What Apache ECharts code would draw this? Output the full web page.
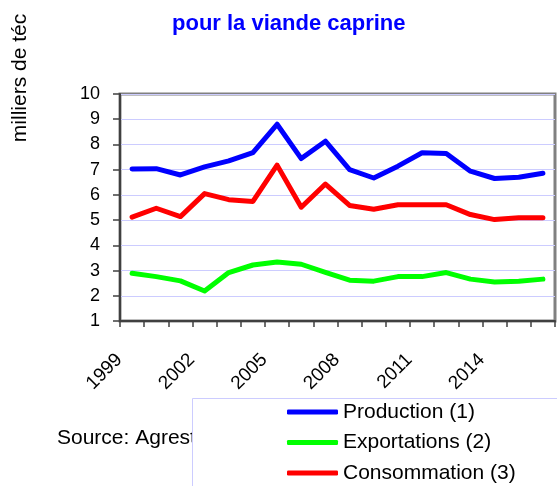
<!DOCTYPE html>
<html>
<head>
<meta charset="utf-8">
<script src="https://cdn.jsdelivr.net/npm/echarts@6/dist/echarts.min.js"></script>
<style>html,body{margin:0;padding:0;background:#fff;}#c{width:557px;height:486px;}</style>
</head>
<body>
<div id="c"></div>
<script>
const years = ['1999','2000','2001','2002','2003','2004','2005','2006','2007','2008','2009','2010','2011','2012','2013','2014','2015','2016'];
const production = [7.03, 7.04, 6.79, 7.11, 7.35, 7.68, 8.8, 7.44, 8.13, 7.0, 6.67, 7.14, 7.67, 7.64, 6.94, 6.65, 6.70, 6.86];
const exportations = [2.89, 2.76, 2.59, 2.19, 2.92, 3.22, 3.34, 3.25, 2.93, 2.62, 2.58, 2.76, 2.76, 2.92, 2.66, 2.55, 2.58, 2.66];
const consommation = [5.12, 5.47, 5.14, 6.05, 5.81, 5.74, 7.18, 5.51, 6.43, 5.58, 5.43, 5.61, 5.61, 5.61, 5.22, 5.02, 5.09, 5.09];
const seriesNames = ['Production (1)', 'Exportations (2)', 'Consommation (3)'];
const titleText = 'pour la viande caprine';
const yAxisTitle = 'milliers de téc';
const sourceText = 'Source: Agreste';

const chart = echarts.init(document.getElementById('c'), null, {renderer: 'canvas'});
const font = 'Arial, "Liberation Sans", sans-serif';
function line(name, data, color) {
  return {
    name: name, type: 'line', data: data, symbol: 'none', smooth: false,
    lineStyle: {color: color, width: 5, join: 'round', cap: 'round'},
    itemStyle: {color: color}, z: 3
  };
}
chart.setOption({
  animation: false,
  backgroundColor: '#ffffff',
  title: {
    text: titleText, left: 172, top: 13, padding: 0,
    textStyle: {color: '#0000ff', fontSize: 22, fontWeight: 'bold', fontFamily: font}
  },
  graphic: [
    {type: 'text', x: 20, y: 78, rotation: Math.PI / 2, z: 0,
     style: {text: yAxisTitle, fill: '#000', font: '21px ' + font, align: 'center', verticalAlign: 'middle'}},
    {type: 'text', x: 57, y: 438, z: 0,
     style: {text: sourceText, fill: '#000', font: '21px ' + font, align: 'left', verticalAlign: 'middle'}},
    {type: 'rect', z: 1, shape: {x: 192.5, y: 398.5, width: 420, height: 120},
     style: {fill: '#ffffff', stroke: '#ccccff', lineWidth: 1}}
  ],
  legend: {
    orient: 'vertical', left: 287, top: 401.5, z: 10,
    padding: 0,
    itemWidth: 51, itemHeight: 5, itemGap: 9.5, icon: 'roundRect',
    textStyle: {color: '#000', fontSize: 21, fontFamily: font, lineHeight: 21},
    data: seriesNames
  },
  grid: {
    left: 120, right: 2, top: 94, bottom: 165, show: true,
    borderColor: '#808080', borderWidth: 3, backgroundColor: '#ffffff'
  },
  xAxis: {
    type: 'category', data: years, boundaryGap: true,
    axisLine: {lineStyle: {color: '#404040', width: 2}},
    axisTick: {show: true, interval: 0, length: 6, lineStyle: {color: '#404040', width: 1.5}},
    axisLabel: {interval: 2, rotate: 45, margin: 23, padding: [0, 18, 0, 0], color: '#000', fontSize: 19, fontFamily: font},
    splitLine: {show: false}
  },
  yAxis: {
    type: 'value', min: 1, max: 10, interval: 1,
    axisLine: {show: true, lineStyle: {color: '#404040', width: 2}},
    axisTick: {show: true, length: 7, lineStyle: {color: '#404040', width: 1.5}},
    axisLabel: {margin: 20, color: '#000', fontSize: 18, fontFamily: font},
    splitLine: {show: true, lineStyle: {color: '#ccccff', width: 1}}
  },
  series: [
    line(seriesNames[0], production, '#0000ff'),
    line(seriesNames[1], exportations, '#00ff00'),
    line(seriesNames[2], consommation, '#ff0000')
  ]
});
</script>
</body>
</html>
